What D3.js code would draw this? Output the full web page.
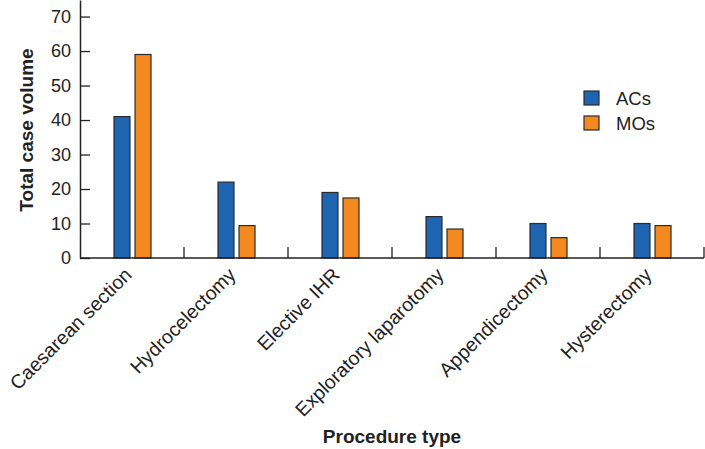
<!DOCTYPE html>
<html>
<head>
<meta charset="utf-8">
<script src="https://cdn.jsdelivr.net/npm/d3@7"></script>
<style>
  html, body { margin: 0; padding: 0; background: #fff; }
  svg { display: block; font-family: "Liberation Sans", Arial, Helvetica, sans-serif; }
</style>
</head>
<body>
<svg id="chart" width="705" height="449"></svg>
<script>
const categories = ["Caesarean section", "Hydrocelectomy", "Elective IHR", "Exploratory laparotomy", "Appendicectomy", "Hysterectomy"];
const seriesNames = ["ACs", "MOs"];
const acsValues = [41, 22, 19, 12, 10, 10];
const mosValues = [59, 9.4, 17.4, 8.4, 5.9, 9.4];
const yTicks = [0, 10, 20, 30, 40, 50, 60, 70];
const colors = ["#1f65b1", "#f4891f"];

const svg = d3.select("#chart");
const plotLeft = 80, plotRight = 704, plotBottom = 258, plotTop = 0;

const x0 = d3.scaleBand().domain(categories).range([plotLeft, plotRight]).padding(0);
const x1 = d3.scaleBand().domain(seriesNames).range([34, 71]).paddingInner(0.24).paddingOuter(0);
const y = d3.scaleLinear().domain([0, 74.8]).range([plotBottom, plotTop]);

const data = categories.map((c, i) => ({ cat: c, vals: [acsValues[i], mosValues[i]] }));

// bars
const groups = svg.append("g").selectAll("g").data(data).join("g")
  .attr("transform", d => `translate(${x0(d.cat)},0)`);
groups.selectAll("rect").data(d => d.vals.map((v, j) => ({ name: seriesNames[j], v, j })))
  .join("rect")
  .attr("x", d => x1(d.name))
  .attr("width", x1.bandwidth())
  .attr("y", d => y(d.v))
  .attr("height", d => y(0) - y(d.v))
  .attr("fill", d => colors[d.j])
  .attr("stroke", "#2b2b2b")
  .attr("stroke-width", 1.2);

// y axis
const yAxis = d3.axisLeft(y).tickValues(yTicks).tickSizeInner(-10).tickSizeOuter(0).tickPadding(9);
const yg = svg.append("g").attr("transform", `translate(${plotLeft},0)`).call(yAxis);
yg.select(".domain").attr("stroke", "#222").attr("stroke-width", 1.5);
yg.selectAll(".tick line").attr("stroke", "#222").attr("stroke-width", 1.3);
yg.selectAll(".tick text").attr("font-size", 18).attr("fill", "#222")
  .attr("font-family", "Liberation Sans, Arial, sans-serif");

// x axis line
svg.append("line")
  .attr("x1", plotLeft).attr("x2", plotRight)
  .attr("y1", y(0)).attr("y2", y(0))
  .attr("stroke", "#222").attr("stroke-width", 1.5);
// boundary ticks
const bounds = categories.map(c => x0(c) + x0.bandwidth());
svg.append("g").selectAll("line").data(bounds).join("line")
  .attr("x1", d => d).attr("x2", d => d)
  .attr("y1", y(0)).attr("y2", y(0) - 11)
  .attr("stroke", "#222").attr("stroke-width", 1.3);

// x labels
svg.append("g").selectAll("text").data(categories).join("text")
  .attr("transform", d => `translate(${x0(d) + x0.bandwidth() / 2 + 1},${y(0) + 18}) rotate(-45)`)
  .attr("text-anchor", "end")
  .attr("font-size", 19.5)
  .attr("fill", "#222")
  .text(d => d);

// axis titles
svg.append("text")
  .attr("transform", `translate(33,130) rotate(-90)`)
  .attr("text-anchor", "middle")
  .attr("font-size", 19).attr("font-weight", "bold").attr("fill", "#222")
  .text("Total case volume");
svg.append("text")
  .attr("x", (plotLeft + plotRight) / 2).attr("y", 443)
  .attr("text-anchor", "middle")
  .attr("font-size", 19).attr("font-weight", "bold").attr("fill", "#222")
  .text("Procedure type");

// legend
const legend = svg.append("g").attr("transform", "translate(584,91)");
const li = legend.selectAll("g").data(seriesNames).join("g")
  .attr("transform", (d, i) => `translate(0,${i * 25})`);
li.append("rect").attr("width", 15).attr("height", 14)
  .attr("fill", (d, i) => colors[i]).attr("stroke", "#2b2b2b").attr("stroke-width", 1.2);
li.append("text").attr("x", 32).attr("y", 13.5)
  .attr("font-size", 18.5).attr("fill", "#222").text(d => d);
</script>
</body>
</html>
